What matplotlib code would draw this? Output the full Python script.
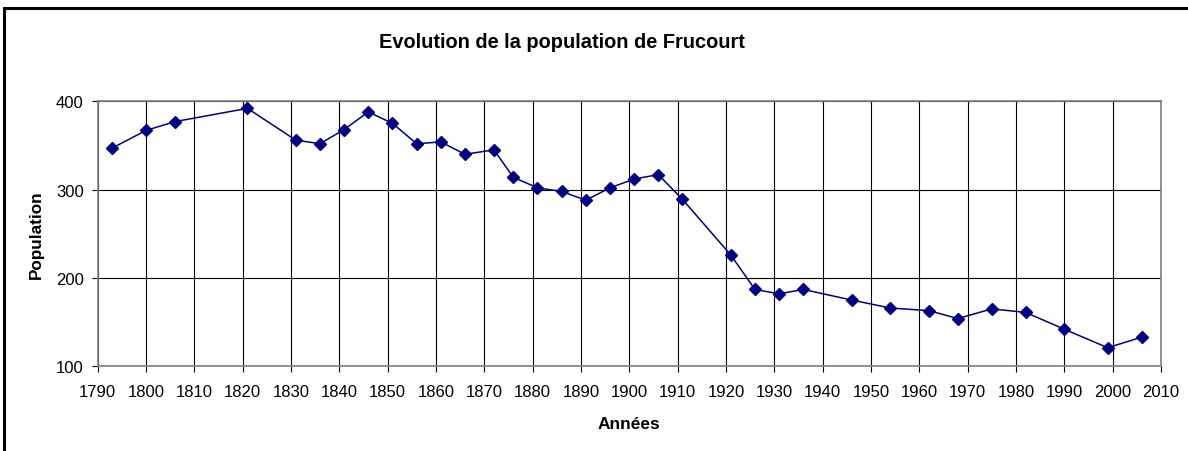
import matplotlib.pyplot as plt
from matplotlib.patches import Rectangle

plt.rcParams['font.family'] = ['Liberation Sans', 'DejaVu Sans']

# population de Frucourt (recensements)
annees = [1793, 1800, 1806, 1821, 1831, 1836, 1841, 1846, 1851, 1856,
          1861, 1866, 1872, 1876, 1881, 1886, 1891, 1896, 1901, 1906,
          1911, 1921, 1926, 1931, 1936, 1946, 1954, 1962, 1968, 1975,
          1982, 1990, 1999, 2006]
population = [347, 367, 377, 392, 356, 352, 368, 388, 375, 352,
              354, 340, 345, 314, 302, 298, 288, 302, 312, 317,
              289, 226, 187, 182, 187, 175, 166, 163, 154, 165,
              161, 142, 121, 133]
x_ticks = list(range(1790, 2011, 10))
y_ticks = [100, 200, 300, 400]

fig = plt.figure(figsize=(11.88, 4.52), dpi=100)
ax = fig.add_axes([0.0822, 0.1874, 0.895, 0.5863])

# cadre du graphique (coupé à droite et en bas comme l'original)
fig.patches.append(Rectangle((4.3 / 1188, -0.1), 1.2, (452 - 9) / 452 + 0.1,
                             transform=fig.transFigure, fill=False,
                             edgecolor='black', linewidth=2.2))

ax.plot(annees, population, color='#000080', linewidth=1.1,
        marker='D', markersize=6, markerfacecolor='#000080',
        markeredgecolor='#000080', zorder=3)

ax.set_xlim(1790, 2010)
ax.set_ylim(100, 400)
ax.set_xticks(x_ticks)
ax.set_yticks(y_ticks)
ax.grid(True, color='black', linewidth=0.8)
ax.set_axisbelow(True)
for s in ax.spines.values():
    s.set_color('#808080')
    s.set_linewidth(1.2)
ax.tick_params(axis='both', labelsize=12, length=4, width=0.8, color='black')
ax.tick_params(axis='x', pad=9)
ax.tick_params(axis='y', pad=6)

ax.set_xlabel('Années', fontsize=12.5, fontweight='bold', labelpad=12)
ax.set_ylabel('Population', fontsize=12.3, fontweight='bold', labelpad=8.5)
fig.text(561.5 / 1188, 1 - 42.5 / 452, 'Evolution de la population de Frucourt',
         fontsize=14.4, fontweight='bold', ha='center', va='center')

fig.savefig('out.png', dpi=100)
